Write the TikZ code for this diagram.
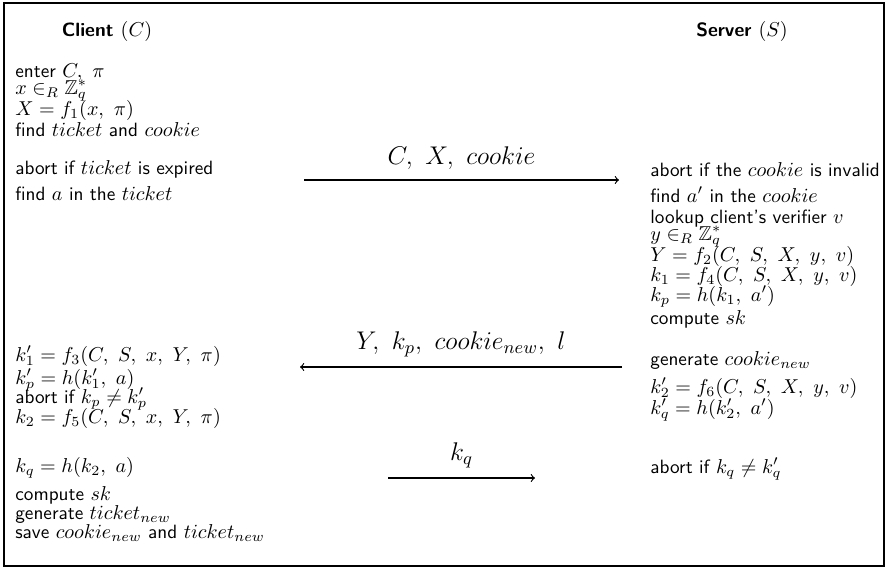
\RequirePackage{fix-cm}
\documentclass[tikz,border=0pt]{standalone}
\usepackage{amssymb}
\DeclareMathSizes{10}{10.45}{7.3}{5.2}
\begin{document}
\begin{tikzpicture}[x=0.52pt,y=-0.52pt,
        txt/.style={anchor=base west,inner sep=0pt,font=\sffamily},
        head/.style={anchor=base,inner sep=0pt,font=\sffamily\bfseries},
        msg/.style={midway,above=5pt,inner sep=0pt,font=\fontsize{13.3}{15}\selectfont},
        flow/.style={->,line width=0.6pt}]
        \useasboundingbox (0,0) rectangle (889,570);
        \draw[line width=1.3pt] (4,3) rectangle (884,566);
        % client
        \node[head] (client) at (107,36) {Client $(C)$};
        \node[txt] (c1) at (15,77) {enter $C,\ \pi$};
        \node[txt] (c2) at (15,94) {$x \in_R \mathbb{Z}_q^*$};
        \node[txt] (c3) at (15,115) {$X = f_1(x,\ \pi)$};
        \node[txt] (c4) at (15,136) {find $ticket$ and $cookie$};
        \node[txt] (c5) at (15,174) {abort if $ticket$ is expired};
        \node[txt] (c6) at (15,200) {find $a$ in the $ticket$};
        \node[txt] (c7) at (15,361) {$k'_1 = f_3(C,\ S,\ x,\ Y,\ \pi)$};
        \node[txt] (c8) at (15,384) {$k'_p = h(k'_1,\ a)$};
        \node[txt] (c9) at (15,403) {abort if $k_p \neq k'_p$};
        \node[txt] (c10) at (15,423) {$k_2 = f_5(C,\ S,\ x,\ Y,\ \pi)$};
        \node[txt] (c11) at (15,472) {$k_q = h(k_2,\ a)$};
        \node[txt] (c12) at (15,500) {compute $sk$};
        \node[txt] (c13) at (15,519) {generate $ticket_{new}$};
        \node[txt] (c14) at (15,538) {save $cookie_{new}$ and $ticket_{new}$};
        % server
        \node[head] (server) at (742,36) {Server $(S)$};
        \node[txt] (s1) at (650,176) {abort if the $cookie$ is invalid};
        \node[txt] (s2) at (650,202) {find $a'$ in the $cookie$};
        \node[txt] (s3) at (650,223) {lookup client's verifier $v$};
        \node[txt] (s4) at (650,240) {$y \in_R \mathbb{Z}_q^*$};
        \node[txt] (s5) at (650,261) {$Y = f_2(C,\ S,\ X,\ y,\ v)$};
        \node[txt] (s6) at (650,281) {$k_1 = f_4(C,\ S,\ X,\ y,\ v)$};
        \node[txt] (s7) at (650,301) {$k_p = h(k_1,\ a')$};
        \node[txt] (s8) at (650,324) {compute $sk$};
        \node[txt] (s9) at (650,365) {generate $cookie_{new}$};
        \node[txt] (s10) at (650,393) {$k'_2 = f_6(C,\ S,\ X,\ y,\ v)$};
        \node[txt] (s11) at (650,414) {$k'_q = h(k'_2,\ a')$};
        \node[txt] (s12) at (650,473) {abort if $k_q \neq k'_q$};
        % messages
        \coordinate (m1a) at (304,180);
        \coordinate (m1b) at (619,180);
        \coordinate (m2a) at (622,367);
        \coordinate (m2b) at (300,367);
        \coordinate (m3a) at (388,478);
        \coordinate (m3b) at (535,478);
        \draw[flow] (m1a) -- (m1b) node[msg] (l1) {$C,\ X,\ cookie$};
        \draw[flow] (m2a) -- (m2b) node[msg] (l2) {$Y,\ k_p,\ cookie_{new},\ l$};
        \draw[flow] (m3a) -- (m3b) node[msg] (l3) {$k_q$};
    \end{tikzpicture}
\end{document}
